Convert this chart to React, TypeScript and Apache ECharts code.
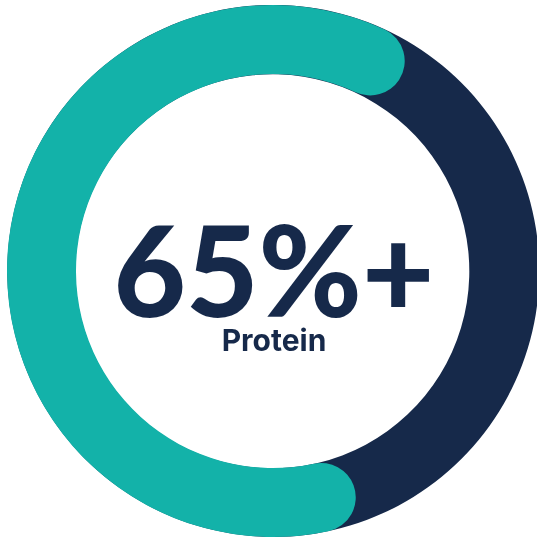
import React, { useEffect, useRef } from "react";
import * as echarts from "echarts";

const categories = ["Protein", "Other"];
const values = [65, 35];
const headline = "65%+";
const subtitle = "Protein";

const TEAL = "#13b2a9";
const NAVY = "#16294a";

export default function App() {
  const ref = useRef<HTMLDivElement>(null);
  useEffect(() => {
    if (!ref.current) return;
    const chart = echarts.init(ref.current, undefined, { renderer: "svg" });
    const center = [273, 271];
    const radius = [197, 266];
    const startAngle = -69.4;
    const total = values.reduce((a, b) => a + b, 0);
    chart.setOption({
      animation: false,
      series: [
        {
          type: "pie",
          silent: true,
          center,
          radius,
          startAngle,
          label: { show: false },
          labelLine: { show: false },
          emphasis: { disabled: true },
          data: [{ name: "Total", value: total, itemStyle: { color: NAVY, borderWidth: 0 } }],
        },
        {
          type: "pie",
          silent: true,
          center,
          radius,
          startAngle,
          label: { show: false },
          labelLine: { show: false },
          emphasis: { disabled: true },
          itemStyle: { borderRadius: 40, borderWidth: 0 },
          data: categories.map((c, i) => ({
            name: c,
            value: values[i],
            itemStyle: { color: i === 0 ? TEAL : "rgba(0,0,0,0)" },
          })),
        },
      ],
      graphic: [
        {
          type: "text",
          x: 274,
          y: 269,
          style: {
            text: headline,
            fill: NAVY,
            font: "900 125px Lato",
            lineHeight: 86,
            textAlign: "center",
            textVerticalAlign: "middle",
          },
        },
        {
          type: "text",
          x: 274,
          y: 340,
          style: {
            text: subtitle,
            fill: NAVY,
            font: "700 30px Inter",
            lineHeight: 26,
            textAlign: "center",
            textVerticalAlign: "middle",
          },
        },
      ],
    });
    return () => chart.dispose();
  }, []);
  return (
    <div
      ref={ref}
      style={{ position: "fixed", left: 0, top: 0, width: 537, height: 542 }}
    />
  );
}
